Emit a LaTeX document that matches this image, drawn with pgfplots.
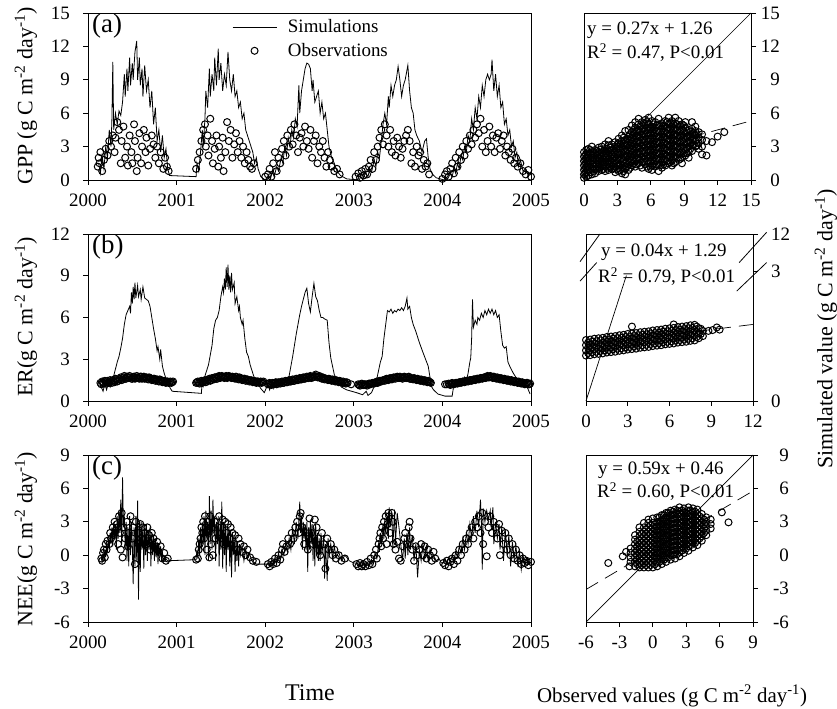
\documentclass[border=0pt]{standalone}
\usepackage{fontspec}
\setmainfont{Liberation Serif}
\usepackage{pgfplots}
\pgfplotsset{compat=1.18}
\newcommand{\tf}{\fontsize{19}{22}\selectfont}
\pgfplotsset{
  every axis/.append style={
    scale only axis, anchor=south west,
    axis line style={line width=0.8bp},
    tick style={line width=0.8bp, black},
    major tick length=5bp,
    tick align=outside,
    tick label style={font=\tf},
    /pgf/number format/assume math mode=true,
    /pgf/number format/1000 sep={},
    xtick pos=bottom,
    xticklabel style={anchor=north, inner sep=0pt, yshift=-8.5bp},
  },
  simline/.style={black, line width=0.8bp, no markers},
  obs/.style={black, only marks, mark=o, mark size=3.5bp, mark options={line width=1bp}},
  simleg/.style={legend image code/.code={\draw[##1] (0bp,0bp) -- (44bp,0bp);}},
  obsleg/.style={legend image code/.code={\draw[mark repeat=2,mark phase=2,##1] plot coordinates {(0bp,0bp) (22bp,0bp) (44bp,0bp)};}},
  leftp/.style={width=443bp, height=167bp, xmin=2000, xmax=2005, xtick={2000,2001,2002,2003,2004,2005}, xticklabels={2000,2001,2002,2003,2004,2005}, ytick pos=left, yticklabel style={anchor=east, inner sep=0pt, xshift=-13bp}},
  rightp/.style={width=167bp, height=167bp, ytick pos=right, yticklabel pos=right},
}
\begin{document}
\begin{tikzpicture}
\useasboundingbox (0,0) rectangle (837bp,709bp);
% ---------------- (a) GPP ----------------
\begin{axis}[leftp, at={(88bp,529bp)}, ymin=0, ymax=15, ytick={0,3,6,9,12,15}, yticklabels={0,3,6,9,12,15},
  legend style={draw=none, fill=none, at={(rel axis cs:0.325,0.972)}, anchor=north west, inner sep=0pt, font=\tf, row sep=5bp, /tikz/every odd column/.append style={column sep=9bp}},
  legend cell align=left]
\addplot[simline, simleg] coordinates {
(2000.12,1.5)(2000.14,0.6)(2000.16,2.2)(2000.18,1.0)(2000.20,3.0)(2000.22,2.0)(2000.24,4.5)(2000.26,3.0)(2000.27,5.5)(2000.28,10.6)(2000.29,4.5)(2000.31,6.0)(2000.33,5.0)(2000.35,6.2)(2000.37,5.8)(2000.39,7.0)(2000.41,9.5)(2000.42,7.5)(2000.44,10.0)(2000.45,8.0)(2000.47,11.0)(2000.48,8.5)(2000.50,10.5)(2000.51,9.0)(2000.53,11.5)(2000.55,12.5)(2000.56,9.0)(2000.58,11.0)(2000.59,8.5)(2000.61,10.0)(2000.62,7.5)(2000.64,10.3)(2000.66,8.0)(2000.68,9.0)(2000.70,6.5)(2000.72,8.0)(2000.74,5.0)(2000.76,6.5)(2000.78,3.5)(2000.80,4.5)(2000.82,2.5)(2000.84,4.0)(2000.86,2.0)(2000.88,2.8)(2000.90,1.0)(2000.92,0.4)(2001.22,0.3)
(2001.23,1.5)(2001.25,0.8)(2001.27,2.5)(2001.29,4.5)(2001.30,3.0)(2001.32,5.5)(2001.33,8.0)(2001.35,6.5)(2001.37,10.0)(2001.38,7.5)(2001.40,9.5)(2001.42,8.0)(2001.43,11.0)(2001.45,8.5)(2001.47,11.8)(2001.48,9.0)(2001.50,10.5)(2001.52,8.0)(2001.54,9.5)(2001.56,8.5)(2001.58,11.5)(2001.60,9.0)(2001.62,8.0)(2001.64,9.5)(2001.66,7.5)(2001.68,8.0)(2001.70,6.5)(2001.72,7.0)(2001.74,5.5)(2001.76,6.0)(2001.78,4.5)(2001.80,4.0)(2001.82,3.5)(2001.84,3.0)(2001.86,2.5)(2001.88,1.5)(2001.90,2.0)(2001.92,1.0)(2001.95,0.3)(2002.00,0.0)
(2002.04,0.4)(2002.06,0.1)(2002.08,0.8)(2002.10,0.3)(2002.13,1.2)(2002.15,0.8)(2002.18,2.0)(2002.20,1.5)(2002.22,3.0)(2002.24,2.2)(2002.26,3.8)(2002.28,3.0)(2002.30,4.5)(2002.32,3.8)(2002.34,5.5)(2002.36,4.8)(2002.38,8.5)(2002.39,6.0)(2002.41,8.0)(2002.43,9.0)(2002.45,10.0)(2002.47,10.5)(2002.49,10.4)(2002.51,10.0)(2002.53,8.0)(2002.54,9.0)(2002.56,7.0)(2002.58,7.5)(2002.60,8.0)(2002.62,6.0)(2002.64,7.0)(2002.66,5.5)(2002.68,6.0)(2002.70,4.5)(2002.72,3.0)(2002.75,2.0)(2002.78,1.5)(2002.81,0.8)(2002.85,0.4)(2002.92,0.1)(2003.06,0.0)
(2003.08,0.3)(2003.10,0.1)(2003.13,0.6)(2003.16,0.3)(2003.18,1.0)(2003.20,0.7)(2003.23,1.8)(2003.25,1.2)(2003.27,2.5)(2003.29,2.0)(2003.31,3.5)(2003.33,5.0)(2003.35,6.0)(2003.37,5.0)(2003.39,7.5)(2003.40,6.5)(2003.42,8.5)(2003.44,7.5)(2003.46,8.5)(2003.48,9.0)(2003.50,10.2)(2003.52,9.0)(2003.54,7.5)(2003.56,8.5)(2003.58,9.0)(2003.61,10.3)(2003.63,8.0)(2003.65,6.5)(2003.67,6.0)(2003.69,4.5)(2003.71,4.0)(2003.74,3.5)(2003.77,2.5)(2003.80,3.5)(2003.82,3.7)(2003.84,2.0)(2003.86,1.0)(2003.89,0.5)(2003.93,0.2)(2004.02,0.0)
(2004.03,0.3)(2004.06,0.1)(2004.09,0.6)(2004.11,0.3)(2004.13,1.0)(2004.15,0.6)(2004.17,1.5)(2004.19,1.0)(2004.21,2.2)(2004.23,1.8)(2004.25,3.0)(2004.27,2.5)(2004.29,4.0)(2004.31,3.5)(2004.33,5.5)(2004.35,4.5)(2004.37,6.5)(2004.39,5.5)(2004.41,7.5)(2004.43,6.5)(2004.45,8.5)(2004.47,7.5)(2004.49,9.0)(2004.51,9.5)(2004.53,9.0)(2004.55,9.5)(2004.56,10.8)(2004.58,8.0)(2004.60,9.5)(2004.62,7.5)(2004.64,8.5)(2004.66,6.5)(2004.68,7.0)(2004.70,5.0)(2004.72,5.5)(2004.74,4.0)(2004.76,4.5)(2004.78,3.0)(2004.80,3.5)(2004.82,2.0)(2004.84,2.5)(2004.86,1.2)(2004.88,1.8)(2004.91,0.8)(2004.94,1.0)(2004.97,0.4)(2005.00,0.5)
};
\addlegendentry{Simulations}
\addplot[obs, obsleg] coordinates {
(2000.11,1.2)(2000.12,2.0)(2000.13,1.5)(2000.14,2.5)(2000.16,0.8)(2000.18,1.8)(2000.20,2.8)(2000.22,2.2)(2000.24,3.5)(2000.26,3.0)(2000.28,4.0)(2000.30,2.5)(2000.31,3.8)(2000.33,5.2)(2000.35,4.5)(2000.37,1.5)(2000.38,3.5)(2000.40,4.8)(2000.42,2.0)(2000.44,3.0)(2000.45,1.3)(2000.47,4.0)(2000.49,2.5)(2000.50,1.5)(2000.52,5.0)(2000.53,3.5)(2000.55,0.8)(2000.56,2.0)(2000.58,4.2)(2000.60,1.5)(2000.61,3.0)(2000.63,4.5)(2000.65,2.5)(2000.66,3.8)(2000.68,1.3)(2000.70,2.8)(2000.72,4.0)(2000.74,3.2)(2000.76,2.0)(2000.78,3.0)(2000.80,1.5)(2000.82,2.5)(2000.85,1.0)(2000.87,2.0)(2000.89,1.2)(2000.91,0.8)
(2001.22,1.0)(2001.24,1.8)(2001.26,2.5)(2001.28,3.5)(2001.30,4.5)(2001.32,5.0)(2001.33,3.0)(2001.35,4.0)(2001.36,2.2)(2001.38,5.5)(2001.40,3.5)(2001.41,1.5)(2001.43,2.8)(2001.45,4.0)(2001.47,1.2)(2001.48,3.0)(2001.50,2.0)(2001.52,3.8)(2001.53,0.8)(2001.55,2.5)(2001.57,5.2)(2001.59,3.5)(2001.61,4.5)(2001.63,2.0)(2001.65,3.2)(2001.67,4.2)(2001.69,2.5)(2001.71,3.5)(2001.73,2.0)(2001.75,3.0)(2001.77,1.5)(2001.79,2.5)(2001.81,1.8)(2001.83,1.2)(2001.85,1.0)(2001.87,1.5)
(2002.00,0.3)(2002.03,0.5)(2002.05,1.0)(2002.07,0.3)(2002.09,1.5)(2002.11,2.5)(2002.13,0.8)(2002.15,2.0)(2002.17,1.5)(2002.19,2.8)(2002.21,3.5)(2002.23,2.2)(2002.25,4.0)(2002.27,3.0)(2002.29,4.5)(2002.31,3.2)(2002.33,5.0)(2002.35,4.0)(2002.37,2.5)(2002.39,3.8)(2002.41,4.2)(2002.43,3.0)(2002.45,4.8)(2002.47,3.5)(2002.49,2.8)(2002.51,4.5)(2002.53,2.0)(2002.55,3.5)(2002.57,4.0)(2002.59,1.5)(2002.61,3.0)(2002.63,2.5)(2002.65,3.5)(2002.67,2.0)(2002.69,1.2)(2002.71,2.5)(2002.73,1.8)(2002.75,1.2)(2002.78,0.8)(2002.81,1.0)(2002.84,0.5)
(2003.02,0.3)(2003.05,0.6)(2003.07,0.2)(2003.09,0.8)(2003.11,0.4)(2003.13,1.0)(2003.15,0.5)(2003.17,1.2)(2003.19,1.8)(2003.21,1.0)(2003.23,2.5)(2003.25,1.8)(2003.27,3.0)(2003.29,3.8)(2003.31,4.5)(2003.33,3.2)(2003.35,5.0)(2003.37,4.0)(2003.39,3.0)(2003.41,4.5)(2003.43,2.5)(2003.45,3.5)(2003.47,2.2)(2003.49,3.8)(2003.51,3.0)(2003.53,2.0)(2003.55,2.8)(2003.57,3.5)(2003.59,4.0)(2003.61,4.5)(2003.63,3.5)(2003.65,1.5)(2003.67,2.5)(2003.69,1.2)(2003.71,3.0)(2003.73,2.2)(2003.75,2.5)(2003.77,1.0)(2003.79,1.8)(2003.81,1.2)(2003.83,1.5)(2003.85,0.5)
(2004.00,0.1)(2004.03,0.5)(2004.05,0.8)(2004.07,0.3)(2004.09,1.0)(2004.11,1.5)(2004.13,0.6)(2004.15,2.0)(2004.17,1.2)(2004.19,2.5)(2004.21,1.8)(2004.23,3.0)(2004.25,2.2)(2004.27,3.5)(2004.29,2.8)(2004.31,4.0)(2004.33,3.2)(2004.35,4.5)(2004.37,3.8)(2004.39,5.0)(2004.41,4.2)(2004.43,5.5)(2004.45,3.0)(2004.47,4.5)(2004.49,2.5)(2004.51,3.5)(2004.53,4.8)(2004.55,3.0)(2004.57,4.0)(2004.59,2.5)(2004.61,3.8)(2004.63,4.2)(2004.65,2.8)(2004.67,3.5)(2004.69,4.0)(2004.71,2.2)(2004.73,3.0)(2004.75,2.5)(2004.77,1.8)(2004.79,2.8)(2004.81,1.5)(2004.83,2.0)(2004.85,1.2)(2004.88,1.5)(2004.91,0.8)(2004.94,0.5)(2004.97,0.9)(2005.00,0.3)
};
\addlegendentry{Observations}
\end{axis}
% ---------------- (a) scatter ----------------
\begin{axis}[rightp, at={(584bp,529bp)}, xmin=0, xmax=15, ymin=0, ymax=15, xtick={0,3,6,9,12,15}, xticklabels={0,3,6,9,12,15}, ytick={0,3,6,9,12,15}, yticklabels={0,3,6,9,12,15}, yticklabel style={anchor=east, inner sep=0pt, xshift=24bp}]
\addplot[obs] coordinates {
(0,0.2)(0,0.5)(0,0.9)(0,1.3)(0,1.7)(0,2.1)(0,2.5)(0.2,0.3)(0.2,0.7)(0.2,1.1)(0.2,1.5)(0.2,1.9)(0.2,2.3)(0.2,2.7)(0.4,0.4)(0.4,0.8)(0.4,1.2)(0.4,1.6)(0.4,2.0)(0.4,2.4)(0.4,2.8)(0.7,0.5)(0.7,1.0)(0.7,1.4)(0.7,1.8)(0.7,2.2)(0.7,2.6)(0.7,3.0)(1,0.6)(1,1.0)(1,1.5)(1,1.9)(1,2.3)(1,2.7)(1.3,0.8)(1.3,1.2)(1.3,1.6)(1.3,2.0)(1.3,2.5)(1.3,2.9)(1.6,0.9)(1.6,1.3)(1.6,1.7)(1.6,2.1)(1.6,2.5)(1.6,3.0)(1.9,0.8)(1.9,1.2)(1.9,1.6)(1.9,2.0)(1.9,2.4)(1.9,2.8)(1.9,3.2)(2.2,0.9)(2.2,1.4)(2.2,1.8)(2.2,2.2)(2.2,2.6)(2.2,3.1)(2.2,3.5)(2.5,1.0)(2.5,1.5)(2.5,1.9)(2.5,2.3)(2.5,2.7)(2.5,3.2)(2.8,0.7)(2.8,1.2)(2.8,1.7)(2.8,2.1)(2.8,2.5)(2.8,3.0)(2.8,3.4)(3.1,0.8)(3.1,1.3)(3.1,1.8)(3.1,2.3)(3.1,2.8)(3.1,3.3)(3.1,3.7)(3.4,0.6)(3.4,1.1)(3.4,1.6)(3.4,2.0)(3.4,2.5)(3.4,3.0)(3.4,3.5)(3.4,4.0)(3.7,0.5)(3.7,1.0)(3.7,1.5)(3.7,2.1)(3.7,2.6)(3.7,3.1)(3.7,3.6)(3.7,4.4)(4,0.9)(4,1.4)(4,1.9)(4,2.4)(4,2.9)(4,3.4)(4,3.9)(4,4.5)(4.3,1.3)(4.3,1.8)(4.3,2.3)(4.3,2.8)(4.3,3.3)(4.3,3.8)(4.3,4.3)(4.3,4.9)(4.6,1.2)(4.6,1.7)(4.6,2.2)(4.6,2.7)(4.6,3.2)(4.6,3.7)(4.6,4.2)(4.6,4.7)(4.6,5.2)(4.9,1.5)(4.9,2.0)(4.9,2.5)(4.9,3.0)(4.9,3.5)(4.9,4.0)(4.9,4.5)(4.9,5.0)(4.9,5.5)(5.2,1.1)(5.2,1.6)(5.2,2.1)(5.2,2.6)(5.2,3.1)(5.2,3.6)(5.2,4.1)(5.2,4.6)(5.2,5.2)(5.5,1.4)(5.5,1.9)(5.5,2.4)(5.5,2.9)(5.5,3.4)(5.5,3.9)(5.5,4.4)(5.5,4.9)(5.5,5.4)(5.8,1.0)(5.8,1.5)(5.8,2.0)(5.8,2.5)(5.8,3.0)(5.8,3.5)(5.8,4.0)(5.8,4.5)(5.8,5.0)(5.8,5.6)(6.1,0.9)(6.1,1.3)(6.1,1.8)(6.1,2.3)(6.1,2.8)(6.1,3.3)(6.1,3.8)(6.1,4.3)(6.1,4.8)(6.1,5.3)(6.4,1.2)(6.4,1.7)(6.4,2.2)(6.4,2.7)(6.4,3.2)(6.4,3.7)(6.4,4.2)(6.4,4.7)(6.4,5.2)(6.7,0.8)(6.7,1.4)(6.7,1.9)(6.7,2.4)(6.7,2.9)(6.7,3.4)(6.7,3.9)(6.7,4.4)(6.7,4.9)(6.7,5.5)(7,1.1)(7,1.6)(7,2.1)(7,2.6)(7,3.1)(7,3.6)(7,4.1)(7,4.6)(7,5.1)(7.3,1.3)(7.3,1.8)(7.3,2.3)(7.3,2.8)(7.3,3.3)(7.3,3.8)(7.3,4.3)(7.3,4.8)(7.3,5.3)(7.6,1.5)(7.6,2.0)(7.6,2.5)(7.6,3.0)(7.6,3.5)(7.6,4.0)(7.6,4.5)(7.6,5.0)(7.6,5.6)(7.9,1.3)(7.9,1.8)(7.9,2.3)(7.9,2.8)(7.9,3.3)(7.9,3.8)(7.9,4.3)(7.9,4.8)(7.9,5.3)(8.2,1.6)(8.2,2.1)(8.2,2.6)(8.2,3.1)(8.2,3.6)(8.2,4.1)(8.2,4.6)(8.2,5.1)(8.2,5.6)(8.5,1.8)(8.5,2.3)(8.5,2.8)(8.5,3.3)(8.5,3.8)(8.5,4.3)(8.5,4.8)(8.5,5.3)(8.8,1.5)(8.8,2.0)(8.8,2.5)(8.8,3.0)(8.8,3.5)(8.8,4.0)(8.8,4.5)(8.8,5.0)(9.1,2.2)(9.1,2.7)(9.1,3.2)(9.1,3.7)(9.1,4.2)(9.1,4.7)(9.1,5.2)(9.4,2.0)(9.4,2.5)(9.4,3.0)(9.4,3.5)(9.4,4.0)(9.4,4.5)(9.7,2.6)(9.7,3.1)(9.7,3.6)(9.7,4.1)(9.7,4.6)(9.7,5.2)(10,3.0)(10,3.5)(10,4.0)(10,4.4)(10,4.8)(10.3,2.8)(10.3,3.3)(10.3,3.8)(10.3,4.3)(10.6,2.3)(10.6,3.0)(10.6,3.6)(10.6,4.1)(11,2.2)(11,3.5)(11.5,3.4)(12,3.9)(12.6,4.3)
(0.1,0.6)(0.1,1.0)(0.1,1.4)(0.1,1.8)(0.1,2.2)(0.55,0.7)(0.55,1.1)(0.55,1.5)(0.55,1.9)(0.55,2.3)(0.55,2.7)(0.85,0.8)(0.85,1.2)(0.85,1.6)(0.85,2.0)(0.85,2.4)(1.15,1.0)(1.15,1.4)(1.15,1.8)(1.15,2.2)(1.15,2.6)(1.45,1.1)(1.45,1.5)(1.45,1.9)(1.45,2.3)(1.45,2.7)(1.75,1.0)(1.75,1.4)(1.75,1.8)(1.75,2.2)(1.75,2.6)(2.05,1.1)(2.05,1.6)(2.05,2.0)(2.05,2.4)(2.05,2.8)(2.35,1.2)(2.35,1.7)(2.35,2.1)(2.35,2.5)(2.35,2.9)(2.65,1.0)(2.65,1.4)(2.65,1.9)(2.65,2.3)(2.65,2.8)(2.95,1.0)(2.95,1.5)(2.95,2.0)(2.95,2.5)(2.95,3.0)(3.25,0.9)(3.25,1.4)(3.25,1.8)(3.25,2.3)(3.25,2.8)(3.25,3.2)(3.55,0.8)(3.55,1.3)(3.55,1.8)(3.55,2.3)(3.55,2.8)(3.55,3.3)(3.55,3.8)(3.85,1.2)(3.85,1.7)(3.85,2.2)(3.85,2.7)(3.85,3.2)(3.85,3.7)(4.15,1.1)(4.15,1.6)(4.15,2.1)(4.15,2.6)(4.15,3.1)(4.15,3.6)(4.15,4.1)(4.45,1.5)(4.45,2.0)(4.45,2.5)(4.45,3.0)(4.45,3.5)(4.45,4.0)(4.45,4.5)(4.75,1.4)(4.75,1.9)(4.75,2.4)(4.75,2.9)(4.75,3.4)(4.75,3.9)(4.75,4.4)(5.05,1.3)(5.05,1.8)(5.05,2.3)(5.05,2.8)(5.05,3.3)(5.05,3.8)(5.05,4.3)(5.05,4.8)(5.35,1.6)(5.35,2.1)(5.35,2.6)(5.35,3.1)(5.35,3.6)(5.35,4.1)(5.35,4.6)(5.35,5.1)(5.65,1.2)(5.65,1.7)(5.65,2.2)(5.65,2.7)(5.65,3.2)(5.65,3.7)(5.65,4.2)(5.65,4.7)(5.65,5.2)(5.95,1.2)(5.95,1.7)(5.95,2.2)(5.95,2.7)(5.95,3.2)(5.95,3.7)(5.95,4.2)(5.95,4.7)(6.25,1.5)(6.25,2.0)(6.25,2.5)(6.25,3.0)(6.25,3.5)(6.25,4.0)(6.25,4.5)(6.25,5.0)(6.55,1.4)(6.55,1.9)(6.55,2.4)(6.55,2.9)(6.55,3.4)(6.55,3.9)(6.55,4.4)(6.55,4.9)(6.85,1.3)(6.85,1.8)(6.85,2.3)(6.85,2.8)(6.85,3.3)(6.85,3.8)(6.85,4.3)(6.85,4.8)(7.15,1.4)(7.15,1.9)(7.15,2.4)(7.15,2.9)(7.15,3.4)(7.15,3.9)(7.15,4.4)(7.15,4.9)(7.45,1.7)(7.45,2.2)(7.45,2.7)(7.45,3.2)(7.45,3.7)(7.45,4.2)(7.45,4.7)(7.45,5.2)(7.75,1.6)(7.75,2.1)(7.75,2.6)(7.75,3.1)(7.75,3.6)(7.75,4.1)(7.75,4.6)(7.75,5.1)(8.05,1.5)(8.05,2.0)(8.05,2.5)(8.05,3.0)(8.05,3.5)(8.05,4.0)(8.05,4.5)(8.05,5.0)(8.35,2.0)(8.35,2.5)(8.35,3.0)(8.35,3.5)(8.35,4.0)(8.35,4.5)(8.35,5.0)(8.65,1.9)(8.65,2.4)(8.65,2.9)(8.65,3.4)(8.65,3.9)(8.65,4.4)(8.65,4.9)(8.95,2.4)(8.95,2.9)(8.95,3.4)(8.95,3.9)(8.95,4.4)(8.95,4.9)(9.25,2.4)(9.25,2.9)(9.25,3.4)(9.25,3.9)(9.25,4.4)(9.55,2.8)(9.55,3.3)(9.55,3.8)(9.55,4.3)(9.85,3.2)(9.85,3.7)(9.85,4.2)(10.15,3.1)(10.15,3.6)(10.15,4.1)
};
\addplot[black, line width=0.7bp] coordinates {(0,0) (15,15)};
\addplot[black, line width=0.7bp, dash pattern=on 14bp off 8bp] coordinates {(0,1.26) (15,5.31)};
\end{axis}
% ---------------- (b) ER ----------------
\begin{axis}[leftp, at={(88bp,308bp)}, ymin=0, ymax=12, ytick={0,3,6,9,12}, yticklabels={0,3,6,9,12}]
\addplot[simline] coordinates {
(2000.15,1.0)(2000.17,0.7)(2000.19,1.2)(2000.21,0.8)(2000.23,1.3)(2000.25,1.0)(2000.27,1.4)(2000.29,1.8)(2000.31,2.3)(2000.33,2.8)(2000.35,3.2)(2000.37,3.8)(2000.39,4.5)(2000.41,5.5)(2000.43,6.2)(2000.45,6.5)(2000.47,6.8)(2000.48,6.3)(2000.49,7.8)(2000.50,7.0)(2000.51,8.2)(2000.52,7.3)(2000.53,8.5)(2000.54,7.4)(2000.56,8.3)(2000.57,7.5)(2000.59,8.0)(2000.60,7.3)(2000.62,8.2)(2000.64,7.4)(2000.66,7.3)(2000.68,7.2)(2000.70,6.8)(2000.72,6.0)(2000.74,5.2)(2000.76,4.5)(2000.78,3.6)(2000.79,3.9)(2000.81,3.0)(2000.82,3.7)(2000.84,2.5)(2000.86,2.0)(2000.88,1.6)(2000.90,1.3)(2000.93,0.9)(2000.95,0.7)(2001.28,0.55)
(2001.29,1.6)(2001.30,1.1)(2001.32,1.8)(2001.34,2.2)(2001.36,2.6)(2001.38,3.3)(2001.40,4.0)(2001.42,5.2)(2001.44,5.8)(2001.46,6.0)(2001.48,6.5)(2001.50,7.5)(2001.52,8.2)(2001.53,7.8)(2001.54,8.8)(2001.55,8.0)(2001.56,9.6)(2001.57,8.2)(2001.58,9.8)(2001.59,8.0)(2001.60,9.0)(2001.61,7.8)(2001.62,9.2)(2001.63,8.0)(2001.65,8.5)(2001.66,7.0)(2001.68,7.5)(2001.70,6.5)(2001.71,6.8)(2001.72,6.0)(2001.74,5.5)(2001.75,5.8)(2001.77,4.5)(2001.79,3.5)(2001.81,3.2)(2001.83,2.6)(2001.85,2.2)(2001.87,1.8)(2001.89,1.5)(2001.92,1.2)(2001.95,0.9)(2001.99,0.6)
(2002.01,0.9)(2002.03,1.2)(2002.05,0.8)(2002.07,1.3)(2002.09,0.9)(2002.11,1.4)(2002.13,1.0)(2002.15,1.3)(2002.17,1.1)(2002.19,1.5)(2002.21,1.2)(2002.23,1.6)(2002.25,1.4)(2002.27,1.8)(2002.29,2.5)(2002.31,3.2)(2002.33,4.0)(2002.35,4.8)(2002.37,5.5)(2002.39,6.2)(2002.41,6.8)(2002.43,7.3)(2002.45,7.8)(2002.47,8.1)(2002.49,7.0)(2002.51,6.4)(2002.53,7.5)(2002.55,8.45)(2002.57,7.5)(2002.59,7.2)(2002.61,6.5)(2002.63,6.0)(2002.65,6.0)(2002.67,5.9)(2002.70,5.8)(2002.72,4.2)(2002.74,3.1)(2002.76,2.5)(2002.78,1.9)(2002.82,1.4)(2002.86,1.0)(2002.92,0.8)(2003.03,0.6)
(2003.10,0.45)(2003.14,0.7)(2003.16,0.4)(2003.20,0.6)(2003.22,0.9)(2003.24,1.2)(2003.26,1.6)(2003.28,2.2)(2003.30,2.8)(2003.32,3.2)(2003.34,4.5)(2003.36,5.5)(2003.38,6.5)(2003.40,6.4)(2003.42,6.6)(2003.44,6.3)(2003.46,6.5)(2003.48,6.4)(2003.50,6.6)(2003.52,6.5)(2003.54,6.7)(2003.56,6.5)(2003.58,6.8)(2003.60,7.4)(2003.61,6.6)(2003.63,6.8)(2003.65,6.0)(2003.67,5.5)(2003.70,5.0)(2003.74,4.2)(2003.78,3.5)(2003.81,3.0)(2003.84,2.5)(2003.86,1.7)(2003.88,1.0)(2003.90,0.8)(2003.95,0.5)(2004.03,0.35)(2004.11,0.35)(2004.13,1.2)
(2004.15,1.3)(2004.17,1.5)(2004.19,1.2)(2004.21,1.6)(2004.23,1.3)(2004.25,1.7)(2004.27,1.4)(2004.29,2.0)(2004.31,2.8)(2004.32,3.1)(2004.33,4.5)(2004.34,7.3)(2004.35,5.3)(2004.37,5.8)(2004.39,5.5)(2004.40,6.0)(2004.42,5.8)(2004.44,6.3)(2004.46,6.0)(2004.48,6.5)(2004.50,6.2)(2004.52,6.6)(2004.54,6.3)(2004.56,6.6)(2004.58,6.2)(2004.60,6.5)(2004.62,6.0)(2004.64,6.2)(2004.66,5.0)(2004.68,4.0)(2004.70,3.8)(2004.72,3.9)(2004.74,2.8)(2004.76,2.5)(2004.80,2.0)(2004.84,1.6)(2004.88,1.5)(2004.92,1.3)(2004.95,1.1)(2004.99,0.5)
};
\addplot[obs] coordinates {
(2000.14,1.3)(2000.16,1.4)(2000.18,1.25)(2000.20,1.35)(2000.22,1.45)(2000.24,1.3)(2000.26,1.4)(2000.28,1.5)(2000.30,1.35)(2000.32,1.55)(2000.34,1.45)(2000.36,1.6)(2000.38,1.5)(2000.40,1.7)(2000.42,1.6)(2000.44,1.75)(2000.46,1.65)(2000.48,1.7)(2000.50,1.6)(2000.52,1.75)(2000.54,1.65)(2000.56,1.7)(2000.58,1.6)(2000.60,1.75)(2000.62,1.65)(2000.64,1.6)(2000.66,1.7)(2000.68,1.55)(2000.70,1.65)(2000.72,1.5)(2000.74,1.6)(2000.76,1.45)(2000.78,1.55)(2000.80,1.4)(2000.82,1.5)(2000.84,1.35)(2000.86,1.45)(2000.88,1.3)(2000.90,1.4)(2000.92,1.35)(2000.94,1.3)(2000.96,1.4)
(2001.22,1.3)(2001.24,1.4)(2001.26,1.25)(2001.28,1.45)(2001.30,1.35)(2001.32,1.5)(2001.34,1.4)(2001.36,1.55)(2001.38,1.45)(2001.40,1.65)(2001.42,1.55)(2001.44,1.7)(2001.46,1.6)(2001.48,1.8)(2001.50,1.7)(2001.52,1.75)(2001.54,1.65)(2001.56,1.8)(2001.58,1.7)(2001.60,1.75)(2001.62,1.65)(2001.64,1.7)(2001.66,1.6)(2001.68,1.7)(2001.70,1.55)(2001.72,1.65)(2001.74,1.5)(2001.76,1.6)(2001.78,1.45)(2001.80,1.55)(2001.82,1.4)(2001.84,1.5)(2001.86,1.35)(2001.88,1.45)(2001.90,1.3)(2001.92,1.4)(2001.94,1.35)(2001.96,1.3)(2001.98,1.4)
(2002.03,1.2)(2002.05,1.3)(2002.07,1.15)(2002.09,1.25)(2002.11,1.3)(2002.13,1.2)(2002.15,1.35)(2002.17,1.25)(2002.19,1.4)(2002.21,1.3)(2002.23,1.45)(2002.25,1.35)(2002.27,1.5)(2002.29,1.4)(2002.31,1.55)(2002.33,1.45)(2002.35,1.6)(2002.37,1.5)(2002.39,1.65)(2002.41,1.55)(2002.43,1.7)(2002.45,1.6)(2002.47,1.75)(2002.49,1.65)(2002.51,1.8)(2002.53,1.7)(2002.55,1.75)(2002.57,1.9)(2002.59,1.7)(2002.61,1.8)(2002.63,1.65)(2002.65,1.7)(2002.67,1.55)(2002.69,1.6)(2002.71,1.5)(2002.73,1.55)(2002.75,1.45)(2002.77,1.5)(2002.79,1.4)(2002.81,1.45)(2002.83,1.35)(2002.85,1.4)(2002.87,1.3)(2002.89,1.35)(2002.91,1.25)(2002.93,1.3)(2002.97,1.2)
(2003.05,1.2)(2003.07,1.1)(2003.09,1.25)(2003.11,1.15)(2003.13,1.2)(2003.15,1.1)(2003.17,1.25)(2003.19,1.2)(2003.21,1.3)(2003.23,1.25)(2003.25,1.35)(2003.27,1.3)(2003.29,1.45)(2003.31,1.4)(2003.33,1.5)(2003.35,1.45)(2003.37,1.6)(2003.39,1.5)(2003.41,1.65)(2003.43,1.55)(2003.45,1.7)(2003.47,1.6)(2003.49,1.75)(2003.51,1.65)(2003.53,1.7)(2003.55,1.6)(2003.57,1.75)(2003.59,1.65)(2003.61,1.7)(2003.63,1.6)(2003.65,1.65)(2003.67,1.55)(2003.69,1.6)(2003.71,1.5)(2003.73,1.55)(2003.75,1.45)(2003.77,1.5)(2003.79,1.4)(2003.81,1.45)(2003.83,1.35)(2003.85,1.4)(2003.87,1.3)
(2004.03,1.2)(2004.07,1.25)(2004.09,1.15)(2004.11,1.3)(2004.13,1.2)(2004.15,1.3)(2004.17,1.25)(2004.19,1.35)(2004.21,1.3)(2004.23,1.4)(2004.25,1.35)(2004.27,1.45)(2004.29,1.4)(2004.31,1.5)(2004.33,1.45)(2004.35,1.55)(2004.37,1.5)(2004.39,1.6)(2004.41,1.55)(2004.43,1.65)(2004.45,1.6)(2004.47,1.7)(2004.49,1.65)(2004.51,1.8)(2004.53,1.7)(2004.55,1.75)(2004.57,1.65)(2004.59,1.7)(2004.61,1.6)(2004.63,1.65)(2004.65,1.55)(2004.67,1.6)(2004.69,1.5)(2004.71,1.55)(2004.73,1.45)(2004.75,1.5)(2004.77,1.4)(2004.79,1.45)(2004.81,1.35)(2004.83,1.4)(2004.85,1.3)(2004.87,1.35)(2004.89,1.25)(2004.91,1.3)(2004.93,1.2)(2004.95,1.3)(2004.97,1.2)(2004.99,1.25)
(2000.15,1.2)(2000.17,1.3)(2000.19,1.45)(2000.21,1.25)(2000.23,1.35)(2000.25,1.5)(2000.27,1.3)(2000.29,1.4)(2000.31,1.6)(2000.33,1.4)(2000.35,1.55)(2000.37,1.7)(2000.39,1.55)(2000.41,1.8)(2000.43,1.6)(2000.45,1.7)(2000.47,1.8)(2000.49,1.6)(2000.51,1.7)(2000.53,1.6)(2000.55,1.8)(2000.57,1.65)(2000.59,1.75)(2000.61,1.6)(2000.63,1.75)(2000.65,1.65)(2000.67,1.6)(2000.69,1.7)(2000.71,1.6)(2000.73,1.55)(2000.75,1.6)(2000.77,1.5)(2000.79,1.45)(2000.81,1.55)(2000.83,1.45)(2000.85,1.4)(2000.87,1.35)(2000.89,1.4)(2000.91,1.3)(2000.93,1.4)(2000.95,1.35)
(2001.23,1.35)(2001.25,1.3)(2001.27,1.4)(2001.29,1.3)(2001.31,1.45)(2001.33,1.35)(2001.35,1.5)(2001.37,1.6)(2001.39,1.5)(2001.41,1.6)(2001.43,1.7)(2001.45,1.6)(2001.47,1.75)(2001.49,1.65)(2001.51,1.8)(2001.53,1.7)(2001.55,1.75)(2001.57,1.65)(2001.59,1.8)(2001.61,1.7)(2001.63,1.75)(2001.65,1.65)(2001.67,1.75)(2001.69,1.6)(2001.71,1.7)(2001.73,1.6)(2001.75,1.55)(2001.77,1.6)(2001.79,1.5)(2001.81,1.5)(2001.83,1.45)(2001.85,1.45)(2001.87,1.4)(2001.89,1.35)(2001.91,1.4)(2001.93,1.3)(2001.95,1.4)(2001.97,1.35)
(2002.04,1.25)(2002.06,1.2)(2002.08,1.3)(2002.10,1.2)(2002.12,1.35)(2002.14,1.25)(2002.16,1.3)(2002.18,1.35)(2002.20,1.3)(2002.22,1.4)(2002.24,1.35)(2002.26,1.45)(2002.28,1.4)(2002.30,1.5)(2002.32,1.45)(2002.34,1.55)(2002.36,1.5)(2002.38,1.6)(2002.40,1.55)(2002.42,1.65)(2002.44,1.6)(2002.46,1.7)(2002.48,1.65)(2002.50,1.75)(2002.52,1.65)(2002.54,1.7)(2002.56,1.8)(2002.58,1.75)(2002.60,1.7)(2002.62,1.75)(2002.64,1.6)(2002.66,1.65)(2002.68,1.6)(2002.70,1.55)(2002.72,1.6)(2002.74,1.5)(2002.76,1.55)(2002.78,1.45)(2002.80,1.5)(2002.82,1.4)(2002.84,1.45)(2002.86,1.35)(2002.88,1.4)(2002.90,1.3)(2002.92,1.35)
(2003.06,1.15)(2003.08,1.2)(2003.10,1.15)(2003.12,1.2)(2003.14,1.15)(2003.16,1.2)(2003.18,1.25)(2003.20,1.25)(2003.22,1.3)(2003.24,1.3)(2003.26,1.4)(2003.28,1.35)(2003.30,1.45)(2003.32,1.45)(2003.34,1.5)(2003.36,1.55)(2003.38,1.55)(2003.40,1.6)(2003.42,1.6)(2003.44,1.65)(2003.46,1.65)(2003.48,1.7)(2003.50,1.7)(2003.52,1.75)(2003.54,1.65)(2003.56,1.7)(2003.58,1.7)(2003.60,1.65)(2003.62,1.75)(2003.64,1.6)(2003.66,1.6)(2003.68,1.65)(2003.70,1.55)(2003.72,1.6)(2003.74,1.5)(2003.76,1.55)(2003.78,1.45)(2003.80,1.5)(2003.82,1.4)(2003.84,1.45)(2003.86,1.35)
(2004.05,1.2)(2004.08,1.2)(2004.10,1.25)(2004.12,1.25)(2004.14,1.25)(2004.16,1.3)(2004.18,1.3)(2004.20,1.35)(2004.22,1.35)(2004.24,1.4)(2004.26,1.4)(2004.28,1.45)(2004.30,1.45)(2004.32,1.5)(2004.34,1.5)(2004.36,1.55)(2004.38,1.55)(2004.40,1.6)(2004.42,1.6)(2004.44,1.65)(2004.46,1.65)(2004.48,1.7)(2004.50,1.75)(2004.52,1.7)(2004.54,1.8)(2004.56,1.7)(2004.58,1.75)(2004.60,1.65)(2004.62,1.7)(2004.64,1.6)(2004.66,1.65)(2004.68,1.55)(2004.70,1.6)(2004.72,1.5)(2004.74,1.55)(2004.76,1.45)(2004.78,1.5)(2004.80,1.4)(2004.82,1.45)(2004.84,1.35)(2004.86,1.4)(2004.88,1.3)(2004.90,1.35)(2004.92,1.25)(2004.94,1.25)(2004.96,1.3)(2004.98,1.2)
};
\end{axis}
% ---------------- (b) scatter ----------------
\begin{axis}[rightp, at={(586bp,308bp)}, xmin=0, xmax=12, ymin=0, ymax=3.86, xtick={0,3,6,9,12}, xticklabels={0,3,6,9,12}, ytick={0,3,3.86}, yticklabels={0,3,12}, yticklabel style={anchor=west, inner sep=0pt, xshift=13bp}, clip=false]
\addplot[obs] coordinates {
(0.0,1.05)(0.0,1.17)(0.0,1.29)(0.0,1.41)(0.3,1.06)(0.3,1.18)(0.3,1.30)(0.3,1.42)(0.6,1.08)(0.6,1.20)(0.6,1.32)(0.6,1.44)(0.9,1.09)(0.9,1.21)(0.9,1.33)(0.9,1.45)(1.2,1.10)(1.2,1.22)(1.2,1.34)(1.2,1.46)(1.5,1.12)(1.5,1.24)(1.5,1.36)(1.5,1.48)(1.8,1.13)(1.8,1.25)(1.8,1.37)(1.8,1.49)(2.1,1.14)(2.1,1.26)(2.1,1.38)(2.1,1.50)(2.4,1.16)(2.4,1.28)(2.4,1.40)(2.4,1.52)(2.7,1.17)(2.7,1.29)(2.7,1.41)(2.7,1.53)(3.0,1.19)(3.0,1.31)(3.0,1.43)(3.0,1.55)(3.3,1.20)(3.3,1.32)(3.3,1.44)(3.3,1.56)(3.3,1.72)(3.6,1.21)(3.6,1.33)(3.6,1.45)(3.6,1.57)(3.9,1.23)(3.9,1.35)(3.9,1.47)(3.9,1.59)(4.2,1.24)(4.2,1.36)(4.2,1.48)(4.2,1.60)(4.5,1.25)(4.5,1.37)(4.5,1.49)(4.5,1.61)(4.8,1.27)(4.8,1.39)(4.8,1.51)(4.8,1.63)(5.1,1.28)(5.1,1.40)(5.1,1.52)(5.1,1.64)(5.4,1.29)(5.4,1.41)(5.4,1.53)(5.4,1.65)(5.7,1.31)(5.7,1.43)(5.7,1.55)(5.7,1.67)(6.0,1.32)(6.0,1.44)(6.0,1.56)(6.0,1.68)(6.3,1.33)(6.3,1.45)(6.3,1.57)(6.3,1.69)(6.3,1.77)(6.6,1.35)(6.6,1.47)(6.6,1.59)(6.6,1.71)(6.9,1.36)(6.9,1.48)(6.9,1.60)(6.9,1.72)(7.2,1.37)(7.2,1.49)(7.2,1.61)(7.2,1.73)(7.5,1.39)(7.5,1.51)(7.5,1.63)(7.5,1.75)(7.8,1.40)(7.8,1.52)(7.8,1.64)(7.8,1.76)(8.1,1.45)(8.1,1.56)(8.1,1.68)(8.4,1.50)(8.4,1.62)(8.8,1.62)(9.1,1.64)(9.4,1.70)(9.6,1.65)
(0.15,1.11)(0.15,1.23)(0.15,1.35)(0.45,1.13)(0.45,1.25)(0.45,1.37)(0.75,1.14)(0.75,1.26)(0.75,1.38)(1.05,1.16)(1.05,1.28)(1.05,1.40)(1.35,1.17)(1.35,1.29)(1.35,1.41)(1.65,1.18)(1.65,1.30)(1.65,1.42)(1.95,1.20)(1.95,1.32)(1.95,1.44)(2.25,1.21)(2.25,1.33)(2.25,1.45)(2.55,1.22)(2.55,1.34)(2.55,1.46)(2.85,1.24)(2.85,1.36)(2.85,1.48)(3.15,1.25)(3.15,1.37)(3.15,1.49)(3.45,1.26)(3.45,1.38)(3.45,1.50)(3.75,1.28)(3.75,1.40)(3.75,1.52)(4.05,1.29)(4.05,1.41)(4.05,1.53)(4.35,1.30)(4.35,1.42)(4.35,1.54)(4.65,1.32)(4.65,1.44)(4.65,1.56)(4.95,1.33)(4.95,1.45)(4.95,1.57)(5.25,1.34)(5.25,1.46)(5.25,1.58)(5.55,1.36)(5.55,1.48)(5.55,1.60)(5.85,1.37)(5.85,1.49)(5.85,1.61)(6.15,1.38)(6.15,1.50)(6.15,1.62)(6.45,1.40)(6.45,1.52)(6.45,1.64)(6.75,1.41)(6.75,1.53)(6.75,1.65)(7.05,1.42)(7.05,1.54)(7.05,1.66)(7.35,1.44)(7.35,1.56)(7.35,1.68)(7.65,1.45)(7.65,1.57)(7.65,1.69)(7.95,1.48)(7.95,1.60)(7.95,1.72)(8.25,1.55)(8.25,1.67)
};
\addplot[black, line width=0.7bp] coordinates {(0,0) (2.9,2.9)};
\addplot[black, line width=0.7bp, dash pattern=on 14bp off 8bp] coordinates {(0,1.29) (12,1.77)};
\draw[line width=0.8bp] (axis cs:-0.43,2.77) -- (axis cs:0.77,3.20);
\draw[line width=0.8bp] (axis cs:-0.43,3.22) -- (axis cs:1.0,3.86);
\draw[line width=0.8bp] (axis cs:10.83,2.54) -- (axis cs:12.98,3.20);
\draw[line width=0.8bp] (axis cs:11.01,3.20) -- (axis cs:12.98,3.90);
\end{axis}
% ---------------- (c) NEE ----------------
\begin{axis}[leftp, at={(88bp,87bp)}, ymin=-6, ymax=9, ytick={-6,-3,0,3,6,9}, yticklabels={-6,-3,0,3,6,9}]
\addplot[simline] coordinates {
(2000.15,-0.3)(2000.16,-0.6)(2000.17,0.2)(2000.18,-0.5)(2000.19,0.5)(2000.20,-0.2)(2000.21,1.0)(2000.22,0.3)(2000.23,1.5)(2000.24,0.5)(2000.25,2.0)(2000.26,1.0)(2000.27,2.5)(2000.28,0.8)(2000.29,3.0)(2000.30,1.5)(2000.31,2.8)(2000.32,0.5)(2000.33,3.5)(2000.34,1.5)(2000.35,4.0)(2000.36,2.0)(2000.37,5.0)(2000.38,1.0)(2000.39,7.0)(2000.40,2.5)(2000.41,3.5)(2000.42,0.5)(2000.43,3.0)(2000.44,-0.5)(2000.45,2.5)(2000.46,-1.0)(2000.47,3.5)(2000.48,0.0)(2000.49,3.0)(2000.50,1.0)(2000.51,-2.6)(2000.52,2.5)(2000.53,-1.0)(2000.54,3.5)(2000.55,-0.5)(2000.56,4.9)(2000.57,-4.0)(2000.58,3.0)(2000.59,-1.5)(2000.60,3.0)(2000.61,0.5)(2000.62,2.8)(2000.63,-1.2)(2000.64,2.5)(2000.65,0.0)(2000.66,2.8)(2000.67,-0.5)(2000.68,2.0)(2000.69,0.5)(2000.70,2.5)(2000.71,-1.0)(2000.72,2.0)(2000.73,0.0)(2000.74,1.8)(2000.75,-0.5)(2000.76,1.5)(2000.77,-0.2)(2000.78,1.2)(2000.79,-0.8)(2000.80,1.0)(2000.81,0.0)(2000.82,0.8)(2000.83,-0.5)(2000.84,0.3)(2000.85,-0.5)(2000.87,-0.3)(2000.90,-0.5)(2001.22,-0.4)
(2001.23,0.5)(2001.24,-0.3)(2001.25,1.5)(2001.26,0.0)(2001.27,2.5)(2001.28,0.5)(2001.29,3.0)(2001.30,1.0)(2001.31,3.5)(2001.32,0.0)(2001.33,4.0)(2001.34,1.5)(2001.35,3.0)(2001.36,-0.5)(2001.37,5.3)(2001.38,1.0)(2001.39,4.0)(2001.40,0.5)(2001.41,5.0)(2001.42,2.0)(2001.43,3.5)(2001.44,-0.5)(2001.45,3.0)(2001.46,1.0)(2001.47,3.5)(2001.48,-1.0)(2001.49,3.0)(2001.50,0.5)(2001.51,4.8)(2001.52,-1.2)(2001.53,3.0)(2001.54,0.0)(2001.55,2.8)(2001.56,-1.5)(2001.57,2.5)(2001.58,0.5)(2001.59,2.5)(2001.60,-1.0)(2001.61,2.2)(2001.62,-2.0)(2001.63,2.0)(2001.64,0.0)(2001.65,1.8)(2001.66,-1.5)(2001.67,1.5)(2001.68,-0.5)(2001.69,1.2)(2001.70,-1.0)(2001.71,1.0)(2001.72,0.0)(2001.74,0.8)(2001.76,-0.5)(2001.78,0.5)(2001.80,-0.3)(2001.82,0.2)(2001.85,-0.5)(2001.90,-0.8)(2002.00,-0.8)
(2002.03,-0.8)(2002.05,-1.0)(2002.07,-0.5)(2002.09,-0.9)(2002.11,-0.2)(2002.13,-0.7)(2002.15,0.2)(2002.17,-0.5)(2002.19,0.5)(2002.21,0.0)(2002.23,1.0)(2002.25,0.3)(2002.27,1.5)(2002.29,0.5)(2002.31,2.5)(2002.33,1.0)(2002.35,3.0)(2002.37,1.5)(2002.39,4.8)(2002.40,2.0)(2002.41,3.5)(2002.42,0.5)(2002.43,3.0)(2002.44,1.5)(2002.45,2.8)(2002.46,0.5)(2002.47,3.0)(2002.48,-1.5)(2002.49,2.5)(2002.50,0.5)(2002.51,3.2)(2002.52,1.0)(2002.53,2.8)(2002.54,-0.5)(2002.55,2.5)(2002.56,-1.0)(2002.57,3.0)(2002.58,0.0)(2002.59,2.0)(2002.60,-0.5)(2002.61,1.5)(2002.62,-0.5)(2002.63,2.0)(2002.64,0.0)(2002.66,1.8)(2002.67,-2.1)(2002.68,1.0)(2002.70,-2.3)(2002.71,1.5)(2002.72,0.0)(2002.74,1.0)(2002.76,-0.3)(2002.78,0.8)(2002.80,-0.2)(2002.83,0.3)(2002.86,-0.5)(2002.90,0.0)(2002.95,-0.5)(2003.00,-0.7)
(2003.03,-0.7)(2003.06,-0.9)(2003.09,-0.6)(2003.12,-1.0)(2003.15,-0.7)(2003.18,-0.9)(2003.20,-0.4)(2003.22,-0.8)(2003.24,0.2)(2003.26,-0.3)(2003.28,1.0)(2003.29,0.3)(2003.30,2.0)(2003.31,1.0)(2003.33,2.8)(2003.34,1.5)(2003.35,3.2)(2003.36,2.0)(2003.38,3.5)(2003.39,1.5)(2003.40,4.3)(2003.41,2.5)(2003.43,3.8)(2003.44,0.5)(2003.46,4.1)(2003.47,1.0)(2003.49,3.8)(2003.51,2.5)(2003.53,1.0)(2003.55,-0.5)(2003.57,1.5)(2003.58,-0.3)(2003.60,2.0)(2003.61,0.0)(2003.63,2.5)(2003.64,0.5)(2003.66,1.8)(2003.68,-0.5)(2003.70,1.0)(2003.72,-2.0)(2003.74,0.5)(2003.76,-0.5)(2003.78,1.0)(2003.80,-0.3)(2003.82,0.8)(2003.84,-0.5)(2003.86,0.5)(2003.88,-0.3)(2003.90,0.0)(2003.93,-0.5)(2003.96,-0.3)(2003.99,-0.7)
(2004.01,-0.7)(2004.03,-0.3)(2004.05,-0.8)(2004.07,-0.2)(2004.09,-0.6)(2004.11,0.0)(2004.13,-0.5)(2004.15,0.3)(2004.17,-0.2)(2004.19,0.8)(2004.21,0.2)(2004.23,1.5)(2004.25,0.5)(2004.27,2.0)(2004.29,1.0)(2004.31,2.8)(2004.33,1.5)(2004.35,3.5)(2004.37,2.0)(2004.39,4.0)(2004.41,2.5)(2004.43,5.0)(2004.44,3.0)(2004.45,-1.3)(2004.46,4.2)(2004.48,3.0)(2004.50,4.0)(2004.52,3.2)(2004.54,4.0)(2004.55,2.5)(2004.57,4.3)(2004.58,1.0)(2004.60,3.0)(2004.62,1.5)(2004.64,2.8)(2004.65,0.5)(2004.67,2.5)(2004.69,-0.5)(2004.71,2.2)(2004.73,0.0)(2004.75,1.8)(2004.77,-1.0)(2004.79,1.2)(2004.81,-0.3)(2004.83,0.8)(2004.85,-0.8)(2004.87,0.3)(2004.89,-1.3)(2004.91,0.0)(2004.93,-0.8)(2004.96,-0.3)(2004.98,-0.8)(2005.00,-0.6)
};
\addplot[obs] coordinates {
(2000.15,-0.3)(2000.16,-0.5)(2000.17,0.2)(2000.18,0.5)(2000.19,-0.2)(2000.20,1.0)(2000.21,0.5)(2000.22,1.3)(2000.24,1.0)(2000.25,2.0)(2000.26,1.5)(2000.28,2.5)(2000.29,1.8)(2000.30,3.0)(2000.31,2.2)(2000.33,2.8)(2000.34,1.0)(2000.35,3.5)(2000.36,2.0)(2000.37,0.5)(2000.38,3.8)(2000.39,-0.2)(2000.40,2.5)(2000.42,1.5)(2000.44,3.0)(2000.45,0.8)(2000.46,2.0)(2000.48,3.5)(2000.50,1.5)(2000.51,2.5)(2000.53,-0.8)(2000.54,3.0)(2000.56,2.0)(2000.57,1.0)(2000.59,2.8)(2000.60,1.5)(2000.62,2.5)(2000.64,2.0)(2000.66,1.0)(2000.67,2.5)(2000.69,1.8)(2000.70,0.5)(2000.72,2.0)(2000.74,1.5)(2000.76,0.8)(2000.78,1.2)(2000.80,0.3)(2000.82,0.8)(2000.84,-0.3)(2000.86,0.2)(2000.88,-0.5)(2000.90,-0.3)
(2001.22,-0.4)(2001.24,-0.3)(2001.25,0.5)(2001.26,1.0)(2001.27,1.5)(2001.28,2.5)(2001.29,2.0)(2001.30,3.0)(2001.31,1.5)(2001.32,3.5)(2001.33,2.5)(2001.34,0.5)(2001.35,3.0)(2001.36,2.0)(2001.37,-0.2)(2001.38,3.5)(2001.39,1.0)(2001.40,2.5)(2001.41,0.0)(2001.43,3.0)(2001.44,1.5)(2001.46,2.0)(2001.48,3.5)(2001.50,2.5)(2001.52,3.2)(2001.53,1.0)(2001.55,3.0)(2001.56,2.0)(2001.58,2.8)(2001.60,1.5)(2001.61,2.5)(2001.63,2.0)(2001.65,1.0)(2001.66,1.8)(2001.68,0.5)(2001.70,1.5)(2001.72,1.0)(2001.74,0.3)(2001.76,0.8)(2001.78,0.0)(2001.80,0.5)(2001.83,-0.2)(2001.86,-0.5)(2001.90,-0.6)
(2002.03,-0.8)(2002.05,-1.0)(2002.07,-0.6)(2002.09,-0.8)(2002.11,-0.3)(2002.13,-0.7)(2002.15,0.0)(2002.17,-0.4)(2002.19,0.5)(2002.20,1.0)(2002.22,0.3)(2002.24,0.8)(2002.26,1.5)(2002.28,1.0)(2002.30,2.0)(2002.32,1.5)(2002.34,2.5)(2002.36,3.0)(2002.38,2.0)(2002.39,3.5)(2002.40,3.8)(2002.42,2.5)(2002.44,1.0)(2002.46,2.0)(2002.48,0.5)(2002.50,3.3)(2002.52,2.0)(2002.54,1.0)(2002.56,3.2)(2002.58,2.5)(2002.60,1.5)(2002.62,0.0)(2002.64,2.0)(2002.66,1.0)(2002.68,-1.2)(2002.70,1.5)(2002.72,0.5)(2002.74,1.0)(2002.76,0.0)(2002.78,0.5)(2002.80,-0.3)(2002.83,0.0)(2002.86,-0.5)(2002.90,-0.3)
(2003.03,-0.8)(2003.05,-1.0)(2003.07,-0.7)(2003.09,-1.0)(2003.11,-0.8)(2003.13,-1.0)(2003.15,-0.6)(2003.17,-0.9)(2003.19,-0.3)(2003.21,-0.8)(2003.23,0.0)(2003.25,0.5)(2003.26,-0.3)(2003.28,1.0)(2003.29,1.5)(2003.30,2.0)(2003.31,0.8)(2003.32,2.5)(2003.33,1.5)(2003.34,3.0)(2003.35,2.2)(2003.36,3.5)(2003.37,1.0)(2003.38,2.8)(2003.39,3.8)(2003.40,3.5)(2003.41,2.0)(2003.43,3.8)(2003.44,3.0)(2003.45,1.0)(2003.47,0.5)(2003.49,1.2)(2003.51,-0.3)(2003.53,-0.5)(2003.55,0.8)(2003.57,1.5)(2003.58,2.0)(2003.60,1.0)(2003.62,2.5)(2003.63,3.0)(2003.64,1.5)(2003.66,0.5)(2003.68,-0.5)(2003.70,0.8)(2003.72,0.0)(2003.74,0.5)(2003.76,1.0)(2003.78,0.0)(2003.80,0.8)(2003.82,-0.3)(2003.84,0.5)(2003.86,0.0)(2003.88,-0.5)(2003.90,0.3)(2003.92,-0.3)
(2004.01,-0.7)(2004.03,-0.9)(2004.05,-0.5)(2004.07,-1.0)(2004.09,-0.6)(2004.11,-0.3)(2004.13,-0.8)(2004.15,0.0)(2004.17,-0.5)(2004.19,0.5)(2004.21,0.0)(2004.23,1.0)(2004.25,0.5)(2004.27,1.5)(2004.29,1.0)(2004.31,2.0)(2004.33,2.5)(2004.35,1.5)(2004.37,3.0)(2004.39,2.5)(2004.41,3.5)(2004.43,2.0)(2004.45,3.8)(2004.46,1.0)(2004.48,3.0)(2004.50,-0.1)(2004.52,2.5)(2004.54,3.5)(2004.56,2.0)(2004.58,3.0)(2004.60,2.5)(2004.62,1.5)(2004.64,2.8)(2004.65,0.0)(2004.67,2.2)(2004.69,1.0)(2004.71,2.0)(2004.73,0.5)(2004.75,1.5)(2004.77,0.0)(2004.79,1.0)(2004.81,-0.3)(2004.83,0.5)(2004.85,-0.5)(2004.87,0.0)(2004.89,-0.8)(2004.91,-0.3)(2004.93,-0.7)(2004.95,-0.5)(2004.97,-0.9)(2005.00,-0.6)
};
\end{axis}
% ---------------- (c) scatter ----------------
\begin{axis}[rightp, at={(586bp,87bp)}, xmin=-6, xmax=9, ymin=-6, ymax=9, xtick={-6,-3,0,3,6,9}, xticklabels={-6,-3,0,3,6,9}, ytick={-6,-3,0,3,6,9}, yticklabels={-6,-3,0,3,6,9}, yticklabel style={anchor=east, inner sep=0pt, xshift=31bp}]
\addplot[obs] coordinates {
(-2.0,-0.6)(-2.0,-0.2)(-2.0,0.2)(-2.0,0.6)(-1.6,-1.0)(-1.6,-0.6)(-1.6,-0.2)(-1.6,0.2)(-1.6,0.6)(-1.6,1.0)(-1.6,1.4)(-1.6,1.8)(-1.2,-1.1)(-1.2,-0.7)(-1.2,-0.3)(-1.2,0.1)(-1.2,0.5)(-1.2,0.9)(-1.2,1.3)(-1.2,1.7)(-1.2,2.1)(-1.2,2.5)(-0.8,-1.1)(-0.8,-0.7)(-0.8,-0.3)(-0.8,0.1)(-0.8,0.5)(-0.8,0.9)(-0.8,1.3)(-0.8,1.7)(-0.8,2.1)(-0.8,2.5)(-0.8,2.9)(-0.4,-1.1)(-0.4,-0.7)(-0.4,-0.3)(-0.4,0.1)(-0.4,0.5)(-0.4,0.9)(-0.4,1.3)(-0.4,1.7)(-0.4,2.1)(-0.4,2.5)(-0.4,2.9)(-0.4,3.2)(0.0,-1.1)(0.0,-0.7)(0.0,-0.3)(0.0,0.1)(0.0,0.5)(0.0,0.9)(0.0,1.3)(0.0,1.7)(0.0,2.1)(0.0,2.5)(0.0,2.9)(0.0,3.3)(0.4,-1.0)(0.4,-0.6)(0.4,-0.2)(0.4,0.2)(0.4,0.6)(0.4,1.0)(0.4,1.4)(0.4,1.8)(0.4,2.2)(0.4,2.6)(0.4,3.0)(0.4,3.4)(0.8,-0.8)(0.8,-0.4)(0.8,0.0)(0.8,0.4)(0.8,0.8)(0.8,1.2)(0.8,1.6)(0.8,2.0)(0.8,2.4)(0.8,2.8)(0.8,3.2)(0.8,3.6)(1.2,-0.6)(1.2,-0.2)(1.2,0.2)(1.2,0.6)(1.2,1.0)(1.2,1.4)(1.2,1.8)(1.2,2.2)(1.2,2.6)(1.2,3.0)(1.2,3.4)(1.2,3.8)(1.6,-0.4)(1.6,0.0)(1.6,0.4)(1.6,0.8)(1.6,1.2)(1.6,1.6)(1.6,2.0)(1.6,2.4)(1.6,2.8)(1.6,3.2)(1.6,3.6)(1.6,4.0)(2.0,-0.3)(2.0,0.1)(2.0,0.5)(2.0,0.9)(2.0,1.3)(2.0,1.7)(2.0,2.1)(2.0,2.5)(2.0,2.9)(2.0,3.3)(2.0,3.7)(2.0,4.1)(2.4,-0.1)(2.4,0.3)(2.4,0.7)(2.4,1.1)(2.4,1.5)(2.4,1.9)(2.4,2.3)(2.4,2.7)(2.4,3.1)(2.4,3.5)(2.4,3.9)(2.4,4.3)(2.8,0.2)(2.8,0.6)(2.8,1.0)(2.8,1.4)(2.8,1.8)(2.8,2.2)(2.8,2.6)(2.8,3.0)(2.8,3.4)(2.8,3.8)(2.8,4.2)(3.2,0.4)(3.2,0.8)(3.2,1.2)(3.2,1.6)(3.2,2.0)(3.2,2.4)(3.2,2.8)(3.2,3.2)(3.2,3.6)(3.2,4.0)(3.2,4.3)(3.6,0.7)(3.6,1.1)(3.6,1.5)(3.6,1.9)(3.6,2.3)(3.6,2.7)(3.6,3.1)(3.6,3.5)(3.6,3.9)(3.6,4.2)(4.0,0.9)(4.0,1.3)(4.0,1.7)(4.0,2.1)(4.0,2.5)(4.0,2.9)(4.0,3.3)(4.0,3.7)(4.0,4.1)(4.4,1.3)(4.4,1.7)(4.4,2.1)(4.4,2.5)(4.4,2.9)(4.4,3.3)(4.4,3.7)(4.8,1.8)(4.8,2.2)(4.8,2.6)(4.8,3.0)(4.8,3.4)(5.2,2.4)(5.2,2.8)(5.2,3.2)(-4.0,-0.7)(-2.7,-0.1)(-2.1,-1.0)(-2.4,0.3)(6.2,3.85)(6.8,2.95)
(-1.4,-0.8)(-1.4,-0.4)(-1.4,0.0)(-1.4,0.4)(-1.4,0.8)(-1.4,1.2)(-1.0,-0.9)(-1.0,-0.5)(-1.0,-0.1)(-1.0,0.3)(-1.0,0.7)(-1.0,1.1)(-1.0,1.5)(-1.0,1.9)(-0.6,-0.9)(-0.6,-0.5)(-0.6,-0.1)(-0.6,0.3)(-0.6,0.7)(-0.6,1.1)(-0.6,1.5)(-0.6,1.9)(-0.6,2.3)(-0.2,-0.9)(-0.2,-0.5)(-0.2,-0.1)(-0.2,0.3)(-0.2,0.7)(-0.2,1.1)(-0.2,1.5)(-0.2,1.9)(-0.2,2.3)(-0.2,2.7)(0.2,-0.8)(0.2,-0.4)(0.2,0.0)(0.2,0.4)(0.2,0.8)(0.2,1.2)(0.2,1.6)(0.2,2.0)(0.2,2.4)(0.2,2.8)(0.6,-0.6)(0.6,-0.2)(0.6,0.2)(0.6,0.6)(0.6,1.0)(0.6,1.4)(0.6,1.8)(0.6,2.2)(0.6,2.6)(0.6,3.0)(0.6,3.4)(1.0,-0.4)(1.0,0.0)(1.0,0.4)(1.0,0.8)(1.0,1.2)(1.0,1.6)(1.0,2.0)(1.0,2.4)(1.0,2.8)(1.0,3.2)(1.0,3.6)(1.4,-0.2)(1.4,0.2)(1.4,0.6)(1.4,1.0)(1.4,1.4)(1.4,1.8)(1.4,2.2)(1.4,2.6)(1.4,3.0)(1.4,3.4)(1.4,3.8)(1.8,0.0)(1.8,0.4)(1.8,0.8)(1.8,1.2)(1.8,1.6)(1.8,2.0)(1.8,2.4)(1.8,2.8)(1.8,3.2)(1.8,3.6)(1.8,3.9)(2.2,0.1)(2.2,0.5)(2.2,0.9)(2.2,1.3)(2.2,1.7)(2.2,2.1)(2.2,2.5)(2.2,2.9)(2.2,3.3)(2.2,3.7)(2.2,4.0)(2.6,0.4)(2.6,0.8)(2.6,1.2)(2.6,1.6)(2.6,2.0)(2.6,2.4)(2.6,2.8)(2.6,3.2)(2.6,3.6)(2.6,4.0)(3.0,0.6)(3.0,1.0)(3.0,1.4)(3.0,1.8)(3.0,2.2)(3.0,2.6)(3.0,3.0)(3.0,3.4)(3.0,3.8)(3.4,0.9)(3.4,1.3)(3.4,1.7)(3.4,2.1)(3.4,2.5)(3.4,2.9)(3.4,3.3)(3.4,3.7)(3.4,4.0)(3.8,1.1)(3.8,1.5)(3.8,1.9)(3.8,2.3)(3.8,2.7)(3.8,3.1)(3.8,3.5)(3.8,3.9)(4.2,1.5)(4.2,1.9)(4.2,2.3)(4.2,2.7)(4.2,3.1)(4.2,3.5)(4.6,2.0)(4.6,2.4)(4.6,2.8)(4.6,3.2)
};
\addplot[black, line width=0.7bp] coordinates {(-6,-6) (9,9)};
\addplot[black, line width=0.7bp, dash pattern=on 14bp off 8bp] coordinates {(-6,-3.08) (9,5.77)};
\end{axis}
% ---------------- labels ----------------
\node[font=\fontsize{27}{30}\selectfont, anchor=north west, inner sep=0pt] at (92bp,695bp) {(a)};
\node[font=\fontsize{27}{30}\selectfont, anchor=north west, inner sep=0pt] at (92bp,474bp) {(b)};
\node[font=\fontsize{27}{30}\selectfont, anchor=north west, inner sep=0pt] at (92bp,253bp) {(c)};
\node[font=\tf, anchor=base west, inner sep=0pt] at (587bp,674bp) {y = 0.27x + 1.26};
\node[font=\tf, anchor=base west, inner sep=0pt] at (587bp,650bp) {R\textsuperscript{2} = 0.47, P<0.01};
\node[font=\tf, anchor=base west, inner sep=0pt] at (601bp,452bp) {y = 0.04x + 1.29};
\node[font=\tf, anchor=base west, inner sep=0pt] at (598bp,426bp) {R\textsuperscript{2} = 0.79, P<0.01};
\node[font=\tf, anchor=base west, inner sep=0pt] at (598bp,234bp) {y = 0.59x + 0.46};
\node[font=\tf, anchor=base west, inner sep=0pt] at (597bp,211bp) {R\textsuperscript{2} = 0.60, P<0.01};
\node[font=\fontsize{22}{26}\selectfont, rotate=90] at (26bp,613bp) {GPP (g C m\textsuperscript{-2} day\textsuperscript{-1})};
\node[font=\fontsize{22}{26}\selectfont, rotate=90] at (26bp,392bp) {ER(g C m\textsuperscript{-2} day\textsuperscript{-1})};
\node[font=\fontsize{22}{26}\selectfont, rotate=90] at (26bp,170bp) {NEE(g C m\textsuperscript{-2} day\textsuperscript{-1})};
\node[font=\fontsize{24}{28}\selectfont, anchor=base] at (310bp,9bp) {Time};
\node[font=\fontsize{21}{25}\selectfont, anchor=base] at (672bp,7bp) {Observed values (g C m\textsuperscript{-2} day\textsuperscript{-1})};
\node[font=\fontsize{22}{26}\selectfont, rotate=90] at (826bp,380bp) {Simulated value (g C m\textsuperscript{-2} day\textsuperscript{-1})};
\end{tikzpicture}
\end{document}
